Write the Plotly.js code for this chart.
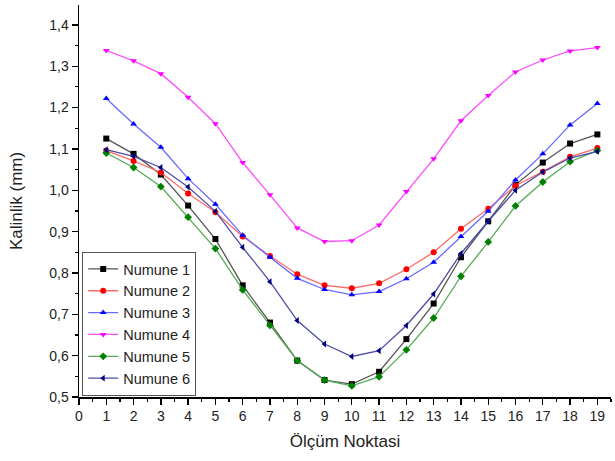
<!DOCTYPE html>
<html>
<head>
<meta charset="utf-8">
<script src="https://cdn.plot.ly/plotly-3.0.1.min.js"></script>
<style>html,body{margin:0;padding:0;background:#fff;}#chart{width:615px;height:461px;}</style>
</head>
<body>
<div id="chart"></div>
<script>
const points = [1,2,3,4,5,6,7,8,9,10,11,12,13,14,15,16,17,18,19];
const seriesNames = ["Numune 1","Numune 2","Numune 3","Numune 4","Numune 5","Numune 6"];
const numune1 = [1.125,1.088,1.038,0.963,0.882,0.770,0.680,0.588,0.541,0.531,0.561,0.640,0.726,0.838,0.925,1.013,1.067,1.113,1.135];
const numune2 = [1.096,1.071,1.043,0.992,0.947,0.888,0.841,0.797,0.770,0.763,0.775,0.809,0.850,0.907,0.955,1.011,1.045,1.081,1.102];
const numune3 = [1.222,1.160,1.104,1.028,0.966,0.891,0.838,0.787,0.760,0.747,0.755,0.786,0.826,0.888,0.949,1.025,1.088,1.158,1.210];
const numune4 = [1.338,1.313,1.282,1.225,1.161,1.067,0.989,0.909,0.876,0.878,0.916,0.997,1.076,1.168,1.229,1.286,1.315,1.337,1.345];
const numune5 = [1.090,1.055,1.009,0.935,0.859,0.759,0.673,0.588,0.541,0.527,0.549,0.614,0.691,0.792,0.875,0.962,1.020,1.069,1.096];
const numune6 = [1.098,1.082,1.055,1.008,0.949,0.862,0.779,0.685,0.628,0.598,0.612,0.673,0.749,0.847,0.925,1.000,1.044,1.078,1.094];
const xTicks = [0,1,2,3,4,5,6,7,8,9,10,11,12,13,14,15,16,17,18,19];
const yTicks = [0.5,0.6,0.7,0.8,0.9,1.0,1.1,1.2,1.3,1.4];

const allY = [numune1,numune2,numune3,numune4,numune5,numune6];
const lineColors = ["#555555","#ff6a6a","#6a6aff","#ff4dff","#55aa55","#4d4da6"];
const markerColors = ["#000000","#ff0000","#0000ff","#ff00ff","#008000","#000080"];
const symbols = ["square","circle","triangle-up","triangle-down","diamond","triangle-left"];

const traces = allY.map((ys,i)=>({
  x: points, y: ys, name: seriesNames[i], type: "scatter", mode: "lines+markers",
  line: {color: lineColors[i], width: 1.3},
  marker: {color: markerColors[i], symbol: symbols[i], size: 6, line:{width:0}}
}));

const layout = {
  width: 615, height: 461,
  margin: {l: 79, r: 4, t: 5, b: 64},
  paper_bgcolor: "#ffffff", plot_bgcolor: "#ffffff",
  separators: ", ",
  font: {family: "Liberation Sans, Arial, sans-serif", color: "#222222"},
  xaxis: {
    range: [0, 19.5], tickvals: xTicks, ticktext: xTicks.map(String),
    showgrid: false, zeroline: false, showline: true, linecolor: "#000000", linewidth: 1.5,
    ticks: "outside", ticklen: 6, tickwidth: 1.3, tickcolor: "#000000",
    minor: {dtick: 0.5, tick0: 0, ticks: "outside", ticklen: 3, tickwidth: 1.2, tickcolor: "#000000"},
    tickfont: {size: 14, color: "#222222"},
    title: {text: "Ölçüm Noktasi", font: {size: 17, color: "#222222"}, standoff: 12}
  },
  yaxis: {
    range: [0.5, 1.448], tickvals: yTicks, ticktext: yTicks.map(v=>v.toFixed(1).replace(".",",")),
    showgrid: false, zeroline: false, showline: true, linecolor: "#000000", linewidth: 1.5,
    ticks: "outside", ticklen: 6, tickwidth: 1.3, tickcolor: "#000000",
    minor: {dtick: 0.05, tick0: 0.5, ticks: "outside", ticklen: 3, tickwidth: 1.2, tickcolor: "#000000"},
    tickfont: {size: 14, color: "#222222"},
    title: {text: "Kalinlik (mm)", font: {size: 17, color: "#222222"}, standoff: 22}
  },
  showlegend: true,
  legend: {
    x: 0.006, y: 0.37, xanchor: "left", yanchor: "top",
    bgcolor: "#ffffff", bordercolor: "#555555", borderwidth: 1,
    font: {size: 14.5, color: "#222222"}, tracegroupgap: 0, itemwidth: 30
  }
};

Plotly.newPlot("chart", traces, layout, {displayModeBar: false, staticPlot: true});
</script>
</body>
</html>
